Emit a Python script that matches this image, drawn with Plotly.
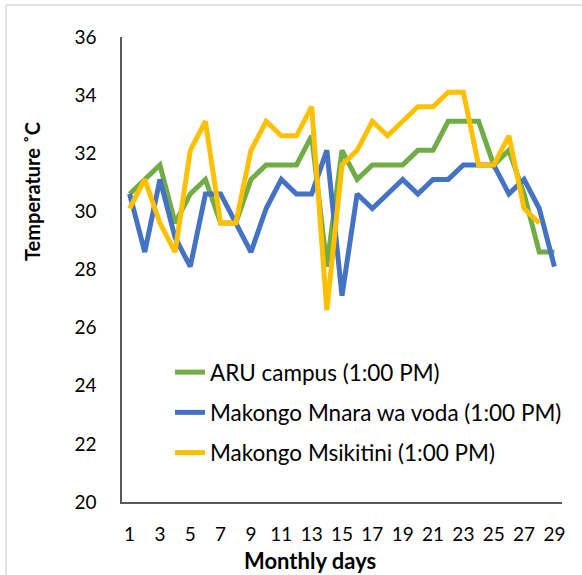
import plotly.graph_objects as go

# Day of month (categories on the x axis)
days = list(range(1, 30))

# Temperature readings at 1:00 PM, degrees Celsius
aru_campus = [30.6, 31.1, 31.6, 29.6, 30.6, 31.1, 29.6, 29.6, 31.1, 31.6,
              31.6, 31.6, 32.6, 28.1, 32.1, 31.1, 31.6, 31.6, 31.6, 32.1,
              32.1, 33.1, 33.1, 33.1, 31.6, 32.1, 30.6, 28.6, 28.6]
mnara_wa_voda = [30.6, 28.6, 31.1, 29.1, 28.1, 30.6, 30.6, 29.6, 28.6, 30.1,
                 31.1, 30.6, 30.6, 32.1, 27.1, 30.6, 30.1, 30.6, 31.1, 30.6,
                 31.1, 31.1, 31.6, 31.6, 31.6, 30.6, 31.1, 30.1, 28.1]
msikitini = [30.1, 31.1, 29.6, 28.6, 32.1, 33.1, 29.6, 29.6, 32.1, 33.1,
             32.6, 32.6, 33.6, 26.6, 31.6, 32.1, 33.1, 32.6, 33.1, 33.6,
             33.6, 34.1, 34.1, 31.6, 31.6, 32.6, 30.1, 29.6, None]

series_names = ["ARU campus (1:00 PM)",
                "Makongo Mnara wa voda (1:00 PM)",
                "Makongo Msikitini (1:00 PM)"]
series_values = [aru_campus, mnara_wa_voda, msikitini]
series_colors = ["#70AD47", "#4472C4", "#FFC000"]

y_ticks = [20, 22, 24, 26, 28, 30, 32, 34, 36]
x_ticks = list(range(1, 30, 2))

W, H = 582, 575
L, R, T, B = 122, 20, 37, 73
PW, PH = W - L - R, H - T - B


def px_x(px):
    return (px - L) / PW


def px_y(py):
    return (H - B - py) / PH


FONT = "Lato, 'Open Sans', sans-serif"

fig = go.Figure()
for i, (name, vals, col) in enumerate(zip(series_names, series_values, series_colors)):
    fig.add_trace(go.Scatter(
        x=days, y=vals, name=name, mode="lines",
        line=dict(color=col, width=5),
        legendgroup=f"g{i}",
    ))

fig.update_layout(
    width=W, height=H,
    margin=dict(l=L, r=R, t=T, b=B, pad=0),
    paper_bgcolor="white", plot_bgcolor="white",
    font=dict(family=FONT, size=19, color="#000000"),
    showlegend=True,
    legend=dict(
        x=px_x(170), y=px_y(351), xanchor="left", yanchor="top",
        bgcolor="rgba(0,0,0,0)", font=dict(size=22.5, color="#000000"),
        tracegroupgap=8, itemwidth=30,
    ),
    xaxis=dict(
        range=[0.5, 29.5], tickmode="array", tickvals=x_ticks,
        ticktext=[str(t) for t in x_ticks],
        showgrid=False, zeroline=False, showline=True,
        linecolor="#595959", linewidth=1.5, ticks="",
        ticklabelstandoff=14,
    ),
    yaxis=dict(
        range=[20, 36], tickmode="array", tickvals=y_ticks,
        showgrid=False, zeroline=False, showline=True,
        linecolor="#595959", linewidth=1.5, ticks="",
        ticklabelstandoff=20,
    ),
    annotations=[
        dict(text="<b>Monthly days</b>", xref="paper", yref="paper",
             x=px_x(310), y=px_y(560), xanchor="center", yanchor="middle",
             showarrow=False, font=dict(size=22)),
        dict(text="<b>Temperature ˚C</b>", xref="paper", yref="paper",
             x=px_x(32), y=px_y(192), xanchor="center", yanchor="middle",
             textangle=-90, showarrow=False, font=dict(size=20)),
    ],
    shapes=[
        dict(type="line", xref="paper", yref="paper",
             x0=px_x(6), x1=px_x(W + 5), y0=px_y(5), y1=px_y(5),
             line=dict(color="#D9D9D9", width=1.5)),
        dict(type="line", xref="paper", yref="paper",
             x0=px_x(6), x1=px_x(6), y0=px_y(5), y1=px_y(H + 5),
             line=dict(color="#D9D9D9", width=1.5)),
    ],
)

fig.write_html("out.html")
